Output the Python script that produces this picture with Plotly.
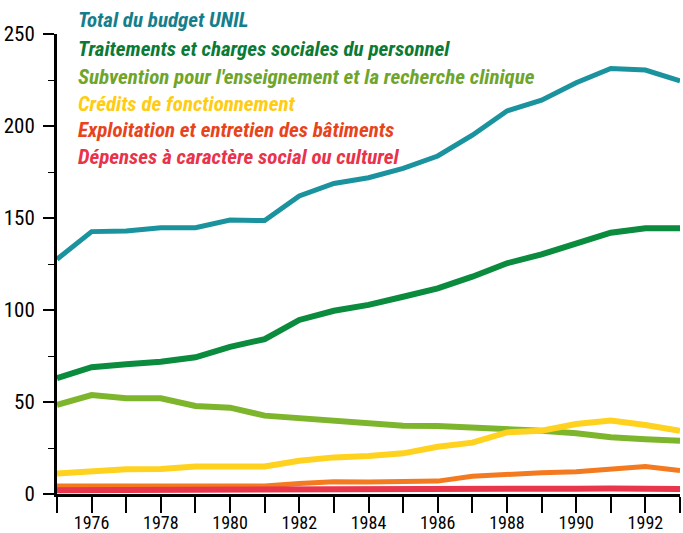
import plotly.graph_objects as go

years = list(range(1975, 1994))

total = [127.6, 142.6, 143, 144.7, 144.7, 148.9, 148.6, 162, 168.8, 171.9,
         177, 183.7, 195, 208.2, 214, 223.5, 231.3, 230.4, 224.5]
personnel = [62.9, 68.9, 70.5, 71.9, 74.3, 80, 84.2, 94.6, 99.6, 102.8,
             107.2, 111.8, 118.1, 125.4, 130.2, 136.2, 142, 144.4, 144.4]
subvention = [48.4, 53.8, 52, 52, 47.8, 46.9, 42.6, 41.1, 39.7, 38.8,
              37.1, 37, 36.2, 35.5, 34.4, 33, 30.8, 29.7, 29]
credits = [11.2, 12.7, 13.4, 13.6, 14.9, 15, 14.9, 18.1, 19.9, 20.7,
           22.1, 25.7, 27.9, 33.5, 34.4, 38, 39.9, 37.5, 34.4]
exploitation = [4.3, 4.3, 4.4, 4.4, 4.5, 4.4, 4.4, 5.7, 6.7, 6.5,
                6.5, 7, 9.6, 10.8, 11.6, 12.1, 13.7, 14.9, 12.8]
depenses = [2.1, 2.1, 2.1, 2.2, 2.2, 2.2, 2.2, 2.3, 2.4, 2.5,
            2.5, 2.6, 2.6, 2.7, 2.8, 2.9, 3.0, 2.8, 2.7]

labels = [
    "Total du budget UNIL",
    "Traitements et charges sociales du personnel",
    "Subvention pour l'enseignement et la recherche clinique",
    "Crédits de fonctionnement",
    "Exploitation et entretien des bâtiments",
    "Dépenses à caractère social ou culturel",
]
line_colors = ["#1A939E", "#0A8B3E", "#7DB62C", "#FFD21F", "#F47A20", "#E8364C"]
text_colors = ["#157E8C", "#0A7A35", "#6EA52A", "#FFCC10", "#E8441C", "#E8334A"]

x_tickvals = years
x_ticktext = [str(y) if y % 2 == 0 and y <= 1992 else "" for y in years]
y_tickvals = [0, 50, 100, 150, 200, 250]

series = [total, personnel, subvention, credits, exploitation, depenses]
widths = [5, 6, 6, 6, 5, 6]
draw_order = [4, 5, 2, 3, 1, 0]

FONT = "Roboto Condensed, Roboto, sans-serif"

fig = go.Figure()
for i in draw_order:
    fig.add_trace(go.Scatter(
        x=years, y=series[i], mode="lines", name=labels[i],
        line=dict(color=line_colors[i], width=widths[i]),
        showlegend=False, cliponaxis=False,
    ))

legend_y = [1.030, 0.967, 0.907, 0.848, 0.791, 0.733]
for lab, col, yy in zip(labels, text_colors, legend_y):
    fig.add_annotation(
        x=0.03, y=yy, xref="paper", yref="paper", xanchor="left", yanchor="middle",
        text="<b><i>" + lab + "</i></b>", showarrow=False,
        font=dict(family=FONT, size=21, color=col),
    )

fig.update_layout(
    width=683, height=533,
    margin=dict(l=57, r=3, t=34, b=39),
    paper_bgcolor="white", plot_bgcolor="white",
    font=dict(family=FONT, color="black"),
)
fig.update_xaxes(
    range=[1975, 1993], tickvals=x_tickvals, ticktext=x_ticktext, automargin=False,
    ticks="outside", ticklen=16, tickwidth=2, tickcolor="black",
    showgrid=False, zeroline=False, showline=True, linecolor="black", linewidth=3,
    tickfont=dict(size=18), tickangle=0, ticklabelstandoff=-6,
)
fig.update_yaxes(
    range=[0, 250], tickvals=y_tickvals, automargin=False,
    ticks="outside", ticklen=11, tickwidth=2, tickcolor="black",
    minor=dict(tickvals=[25, 75, 125, 175, 225], ticks="outside", ticklen=6,
               tickwidth=1, tickcolor="black", showgrid=False),
    showgrid=False, zeroline=False, showline=True, linecolor="black", linewidth=3,
    tickfont=dict(size=21), ticklabelstandoff=4,
)

fig.write_html(
    "out.html",
    config={"displayModeBar": False},
    post_script="document.body.style.margin='0';document.body.style.overflow='hidden';",
)
